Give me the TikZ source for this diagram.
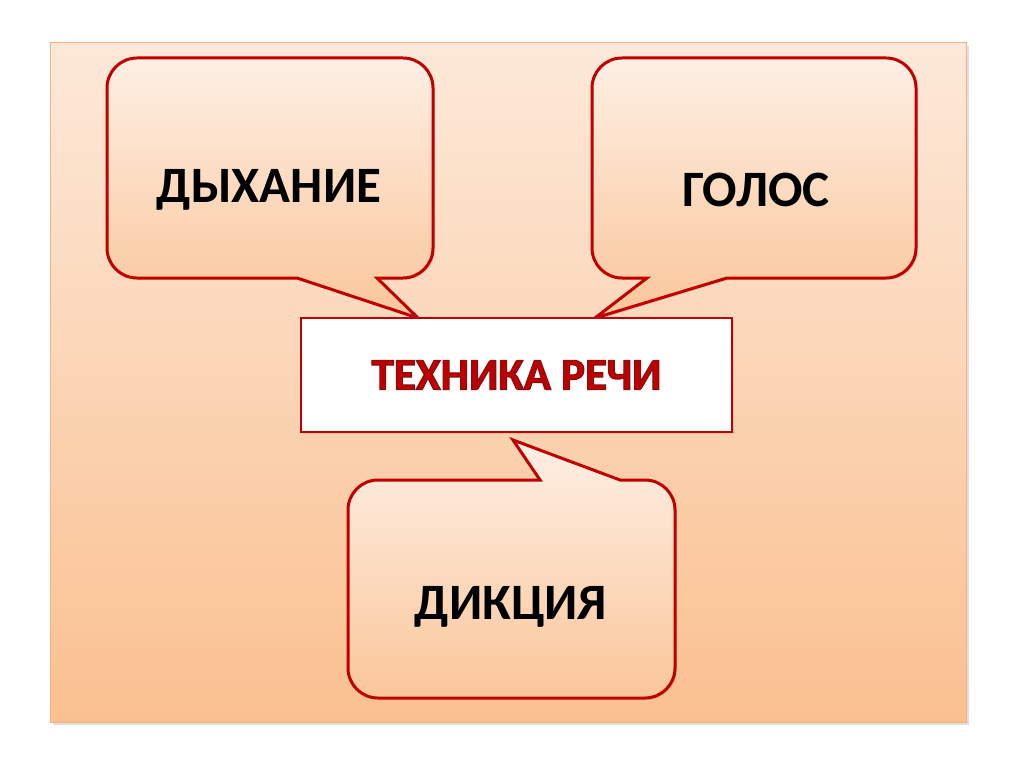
\documentclass[tikz,border=0pt]{standalone}
\usepackage{fontspec}
\setmainfont{Carlito}
\usetikzlibrary{shadows}
\definecolor{peachtop}{HTML}{FDE9D9}
\definecolor{peachbot}{HTML}{FAC090}
\definecolor{darkred}{HTML}{C00000}
\definecolor{framerim}{HTML}{F4B183}
\newcommand{\rimtext}[1]{\special{pdf:literal direct 2 Tr 1.2 w 0.55 0.05 0.05 RG}#1\special{pdf:literal direct 0 Tr}}

\begin{document}
\begin{tikzpicture}[
            x=1pt, y=-1pt,
            frame/.style={draw=framerim, line width=1pt,
                top color=peachtop, bottom color=peachbot,
                drop shadow={shadow xshift=3pt, shadow yshift=-3pt, opacity=0.25}},
            bubble/.style={draw=darkred, line width=3pt,
                top color=peachtop!70!white, bottom color=peachbot!85!peachtop,
                drop shadow={shadow xshift=2pt, shadow yshift=-2pt, opacity=0.2}},
            techbox/.style={draw=darkred, line width=2.5pt, fill=white,
                minimum width=431pt, minimum height=114pt,
                drop shadow={shadow xshift=2pt, shadow yshift=-2pt, opacity=0.2}},
            word/.style={font=\bfseries\fontsize{51}{60}\selectfont, text=black},
            title/.style={font=\bfseries\fontsize{45}{54}\selectfont, text=darkred}
        ]
            \useasboundingbox (0,0) rectangle (1024,767);

            % slide background
            \path[frame] (50,43) rectangle (966,722);

            % tail tips
            \coordinate (tipbreath) at (418,318);
            \coordinate (tipvoice) at (595,318);
            \coordinate (tipdiction) at (513,440);

            % bubbles
            \path[bubble, rounded corners=30] (270,58) -- (433,58) -- (433,278)
                [sharp corners] -- (377,278) -- (tipbreath) -- (297,278)
                [rounded corners=30] -- (107,278) -- (107,58) -- cycle;
            \path[bubble, rounded corners=30] (754,58) -- (916,58) -- (916,278)
                [sharp corners] -- (727,278) -- (tipvoice) -- (647,278)
                [rounded corners=30] -- (592,278) -- (592,58) -- cycle;
            \path[bubble, rounded corners=30] (511,698) -- (348,698) -- (348,480)
                [sharp corners] -- (540,480) -- (tipdiction) -- (620,480)
                [rounded corners=30] -- (675,480) -- (675,698) -- cycle;

            \node[word] (breath) at (269,190) {ДЫХАНИЕ};
            \node[word] (voice) at (756,190) {ГОЛОС};
            \node[word] (diction) at (511,607) {ДИКЦИЯ};

            % centre box
            \node[techbox, title] (tech) at (516.5,375) {\rimtext{ТЕХНИКА РЕЧИ}};
        \end{tikzpicture}
\end{document}
